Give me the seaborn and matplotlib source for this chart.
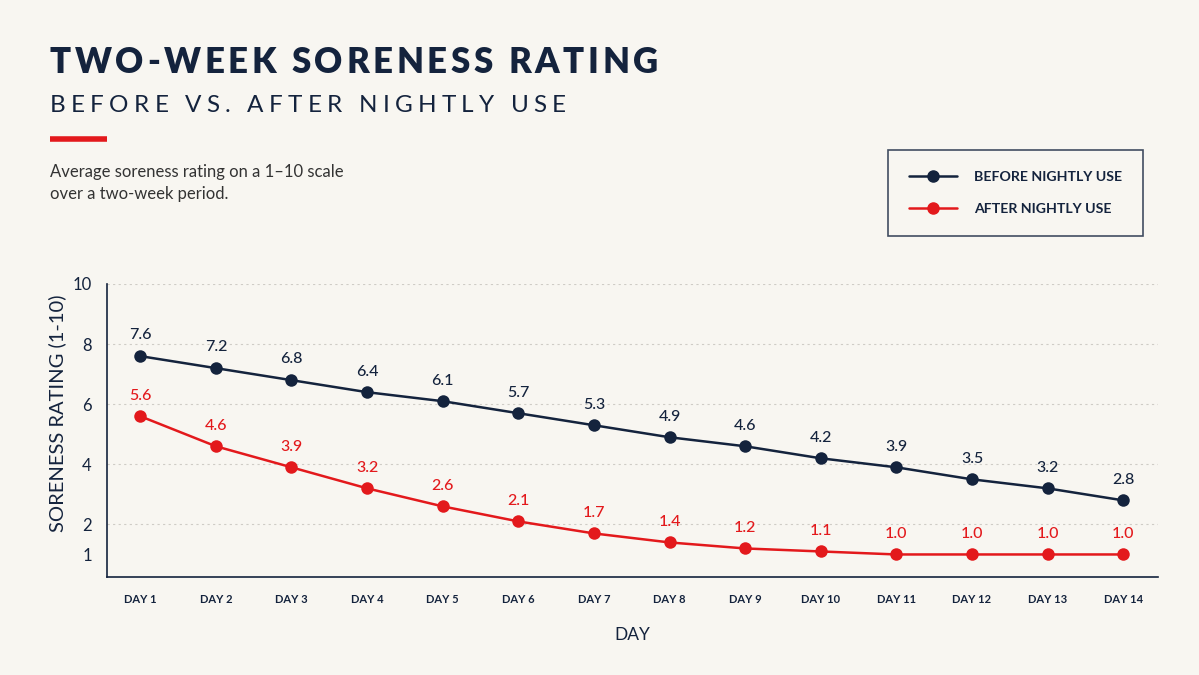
import pandas as pd
import numpy as np
import matplotlib.pyplot as plt
import seaborn as sns
from matplotlib.lines import Line2D

# --------------------------- DATA -----------------------------------
days = [f"DAY {i}" for i in range(1, 15)]
before_use = [7.6, 7.2, 6.8, 6.4, 6.1, 5.7, 5.3, 4.9, 4.6, 4.2, 3.9, 3.5, 3.2, 2.8]
after_use = [5.6, 4.6, 3.9, 3.2, 2.6, 2.1, 1.7, 1.4, 1.2, 1.1, 1.0, 1.0, 1.0, 1.0]
series_names = ["BEFORE NIGHTLY USE", "AFTER NIGHTLY USE"]
y_ticks = [1, 2, 4, 6, 8, 10]

# --------------------------- SETTINGS ---------------------------
W, H = 1199, 675
BG = "#F8F6F1"
NAVY = "#14233D"
RED = "#E3191C"

sns.set_theme(style="white")
plt.rcParams['font.family'] = ['Lato', 'DejaVu Sans']


def spaced_text(fig, x_px, y_px, s, target_px, **kw):
    # draw text one char at a time, spread to a given total width
    r = fig.canvas.get_renderer()
    arts, widths = [], []
    for ch in s:
        t = fig.text(0, 0, ch, va='baseline', ha='left', **kw)
        arts.append(t)
        if ch == ' ':
            t.set_text('a a')
            w_full = t.get_window_extent(renderer=r).width
            t.set_text('aa')
            w = w_full - t.get_window_extent(renderer=r).width
            t.set_text(' ')
        else:
            w = t.get_window_extent(renderer=r).width
        widths.append(w)
    track = (target_px - sum(widths)) / (len(s) - 1)
    x = x_px
    for t, w in zip(arts, widths):
        t.set_position((x / W, 1 - y_px / H))
        x += w + track


df = pd.DataFrame({
    'day': list(range(len(days))) * 2,
    'rating': before_use + after_use,
    'series': [series_names[0]] * len(days) + [series_names[1]] * len(days),
})
palette = {series_names[0]: NAVY, series_names[1]: RED}

fig = plt.figure(figsize=(W / 100, H / 100), dpi=100, facecolor=BG)
ax = fig.add_axes([107 / W, 1 - 577 / H, (1158 - 107) / W, (577 - 284) / H])
ax.set_facecolor(BG)

sns.lineplot(data=df, x='day', y='rating', hue='series', palette=palette,
             marker='o', markersize=9, markeredgewidth=0, linewidth=1.8,
             legend=False, ax=ax)

# value labels
for vals, col in [(before_use, NAVY), (after_use, RED)]:
    for i, v in enumerate(vals):
        ax.annotate(f"{v:.1f}", (i, v), xytext=(0, 12), textcoords='offset points',
                    ha='center', va='baseline', fontsize=11.5, color=col, fontweight='medium')

ax.set_xlim(-0.44, 13.46)
ax.set_ylim(0.25, 10)
ax.set_xticks(range(len(days)))
ax.set_xticklabels(days, fontsize=8, fontweight='bold', color=NAVY)
ax.set_yticks(y_ticks)
ax.set_yticklabels([str(t) for t in y_ticks], fontsize=12, color=NAVY)
ax.tick_params(axis='x', length=0, pad=12)
ax.tick_params(axis='y', length=5, width=0.8, color=NAVY, pad=6)

ax.grid(axis='y', linestyle=(0, (2, 3)), color='#CFCCC6', linewidth=0.8)
ax.yaxis.get_gridlines()[0].set_visible(False)
ax.yaxis.get_major_ticks()[0].tick1line.set_visible(False)

for s in ['top', 'right']:
    ax.spines[s].set_visible(False)
for s in ['left', 'bottom']:
    ax.spines[s].set_color(NAVY)
    ax.spines[s].set_linewidth(1.2)

ax.set_xlabel("DAY", fontsize=12.5, color=NAVY, labelpad=16)
ax.set_ylabel("SORENESS RATING (1-10)", fontsize=14.5, color=NAVY)
ax.yaxis.set_label_coords(-0.039, 0.56)

# --------------------------- TITLES -----------------------------------
spaced_text(fig, 50, 73, "TWO-WEEK SORENESS RATING", 608,
            fontsize=25, fontweight='heavy', color=NAVY)
spaced_text(fig, 50, 112, "BEFORE VS. AFTER NIGHTLY USE", 516,
            fontsize=17.5, fontweight='normal', color=NAVY)
fig.add_artist(Line2D([50 / W, 107 / W], [1 - 139 / H, 1 - 139 / H],
                      color=RED, linewidth=4, solid_capstyle='butt'))
fig.text(50 / W, 1 - 177 / H, "Average soreness rating on a 1\u201310 scale",
         fontsize=12, color='#333333', va='baseline', ha='left')
fig.text(50 / W, 1 - 199 / H, "over a two-week period.",
         fontsize=12, color='#333333', va='baseline', ha='left')

# --------------------------- LEGEND -----------------------------------
handles = [Line2D([], [], color=palette[n], marker='o', markersize=8, linewidth=1.8)
           for n in series_names]
leg = fig.legend(handles, series_names, loc='upper left',
                 bbox_to_anchor=(888 / W, 1 - 150 / H),
                 frameon=True, fancybox=False, fontsize=10.2, handlelength=3.4,
                 borderpad=1.5, labelspacing=1.4, handletextpad=1.15, borderaxespad=0)
leg.get_frame().set_edgecolor(NAVY)
leg.get_frame().set_linewidth(1.2)
leg.get_frame().set_facecolor(BG)
for t in leg.get_texts():
    t.set_color(NAVY)
    t.set_fontweight('bold')

fig.savefig("out.png", dpi=100, facecolor=BG)
